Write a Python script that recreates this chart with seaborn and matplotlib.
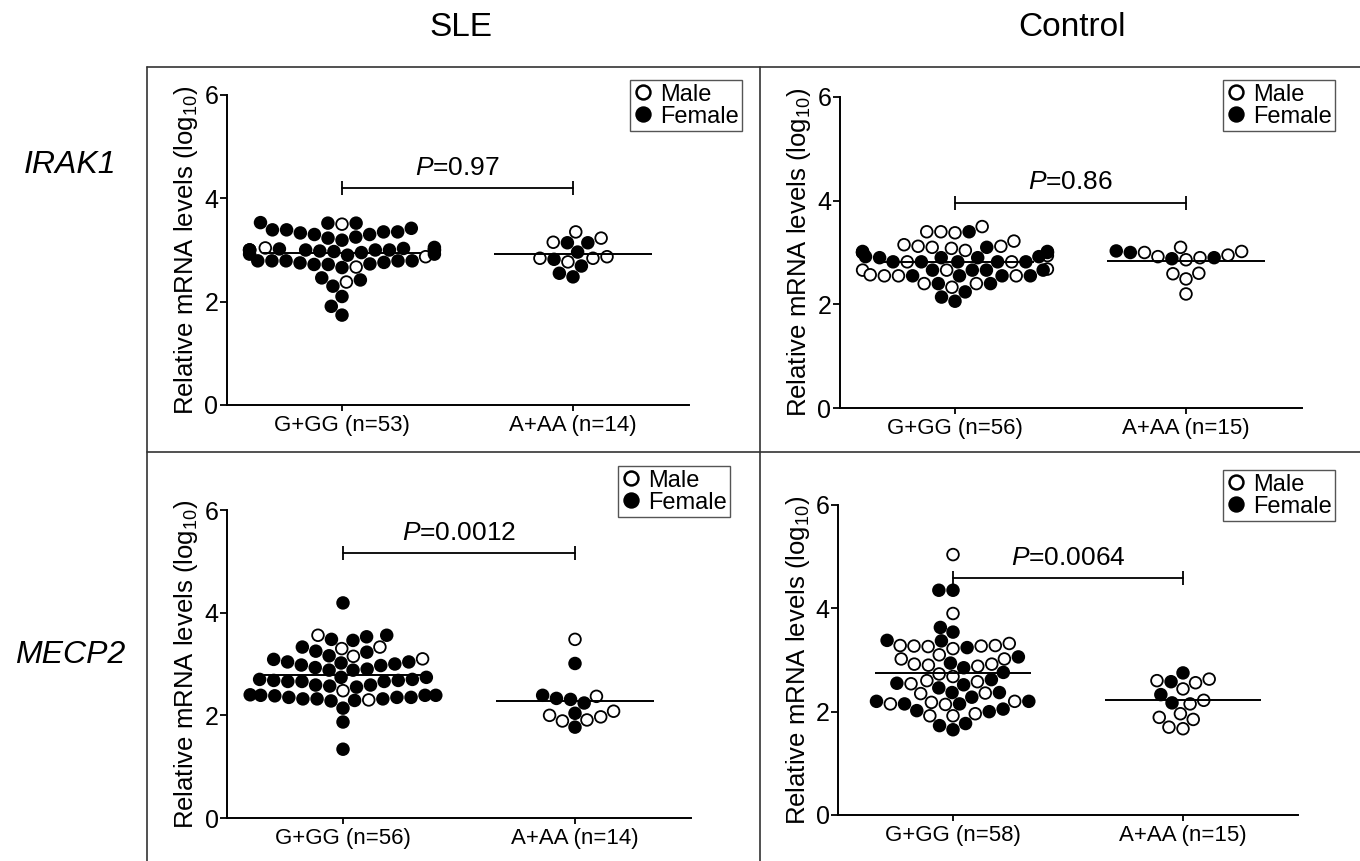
import numpy as np
import pandas as pd
import seaborn as sns
import matplotlib.pyplot as plt
from matplotlib.lines import Line2D

sns.set_theme(style='ticks')
plt.rcParams['font.family'] = ['Liberation Sans', 'DejaVu Sans']
plt.rcParams['mathtext.fontset'] = 'custom'
plt.rcParams['mathtext.rm'] = 'Liberation Sans'
plt.rcParams['mathtext.it'] = 'Liberation Sans:italic'
plt.rcParams['text.color'] = 'black'
plt.rcParams['axes.labelcolor'] = 'black'
plt.rcParams['xtick.color'] = 'black'
plt.rcParams['ytick.color'] = 'black'

genotypes = ['G+GG', 'A+AA']
sexes = ['Male', 'Female']

# values (log10 relative mRNA levels)
sle_irak1_gg_male = [3.50, 3.00, 3.00, 3.04, 2.87, 2.67, 2.38]
sle_irak1_gg_female = [3.39, 3.39, 3.30, 3.30, 3.52, 3.52, 3.53, 3.35, 3.35, 3.42,
                       3.23, 3.19, 3.25, 3.33,
                       3.00, 2.98, 3.02, 3.05, 3.00, 2.97, 3.03, 3.00, 3.00, 3.00, 3.00,
                       2.92, 2.90, 2.92, 2.95,
                       2.79, 2.79, 2.75, 2.73, 2.72, 2.72, 2.76, 2.79, 2.79, 2.79,
                       2.66, 2.46, 2.30, 2.42, 2.10, 1.91, 1.74]
sle_irak1_aa_male = [3.35, 3.15, 3.23, 2.84, 2.84, 2.77, 2.87]
sle_irak1_aa_female = [3.14, 3.14, 2.96, 2.69, 2.82, 2.48, 2.55]

ctl_irak1_gg_male = [3.50, 3.40, 3.40, 3.38, 3.22, 3.12, 3.15, 3.08, 3.10, 3.12,
                     3.02, 3.00, 3.00, 3.02, 3.04, 2.94, 2.82, 2.82, 2.66, 2.66,
                     2.68, 2.55, 2.55, 2.55, 2.57, 2.40, 2.40, 2.33]
ctl_irak1_gg_female = [3.40, 3.10, 3.00, 3.00, 3.00, 2.92, 2.90, 2.90, 2.90, 2.92,
                       2.82, 2.82, 2.82, 2.82, 2.82, 2.66, 2.66, 2.66, 2.66, 2.55,
                       2.55, 2.55, 2.55, 2.40, 2.40, 2.24, 2.06, 2.14]
ctl_irak1_aa_male = [3.10, 3.00, 2.92, 2.86, 2.90, 2.95, 3.02, 2.59, 2.49, 2.60, 2.20]
ctl_irak1_aa_female = [3.03, 2.90, 2.88, 3.00]

sle_mecp2_gg_male = [3.56, 3.33, 3.30, 3.15, 3.10, 2.30, 2.48]
sle_mecp2_gg_female = [4.19, 3.48, 3.56, 3.53, 3.46, 3.23, 3.25, 3.33,
                       3.09, 3.04, 3.04, 2.98, 2.97, 3.00, 3.02, 3.16,
                       2.90, 2.88, 2.88, 2.93,
                       2.74, 2.66, 2.66, 2.68, 2.68, 2.70, 2.66, 2.74, 2.70,
                       2.59, 2.55, 2.57, 2.59,
                       2.35, 2.39, 2.32, 2.39, 2.29, 2.38, 2.28, 2.39, 2.32, 2.40,
                       2.32, 2.35, 2.35, 2.14, 1.87, 1.34]
sle_mecp2_aa_male = [3.48, 2.37, 2.00, 2.08, 1.91, 1.89, 1.97]
sle_mecp2_aa_female = [3.01, 2.39, 2.33, 2.31, 2.24, 2.04, 1.77]

ctl_mecp2_gg_male = [5.04, 3.90, 3.27, 3.28, 3.27, 3.26, 3.28, 3.32, 3.22, 3.10,
                     3.02, 3.02, 2.92, 2.90, 2.88, 2.92, 2.68, 2.73, 2.60, 2.54,
                     2.58, 2.35, 2.36, 2.15, 2.18, 2.20, 2.14, 1.92, 1.92, 1.96]
ctl_mecp2_gg_female = [4.35, 4.35, 3.63, 3.54, 3.37, 3.38, 3.24, 3.06, 2.85, 2.94,
                       2.76, 2.62, 2.52, 2.46, 2.55, 2.37, 2.37, 2.28, 2.15, 2.05,
                       2.00, 2.20, 2.20, 2.15, 2.02, 1.77, 1.73, 1.65]
ctl_mecp2_aa_male = [2.63, 2.60, 2.56, 2.44, 2.15, 2.22, 1.85, 1.96, 1.89, 1.67, 1.70]
ctl_mecp2_aa_female = [2.75, 2.58, 2.33, 2.17]

p_values = ['0.97', '0.86', '0.0012', '0.0064']


def make_df(gg_m, gg_f, aa_m, aa_f):
    rows = []
    for g, m, f in [(genotypes[0], gg_m, gg_f), (genotypes[1], aa_m, aa_f)]:
        rows += [(g, 'Male', v) for v in m]
        rows += [(g, 'Female', v) for v in f]
    return pd.DataFrame(rows, columns=['genotype', 'sex', 'value'])


panels = [
    make_df(sle_irak1_gg_male, sle_irak1_gg_female, sle_irak1_aa_male, sle_irak1_aa_female),
    make_df(ctl_irak1_gg_male, ctl_irak1_gg_female, ctl_irak1_aa_male, ctl_irak1_aa_female),
    make_df(sle_mecp2_gg_male, sle_mecp2_gg_female, sle_mecp2_aa_male, sle_mecp2_aa_female),
    make_df(ctl_mecp2_gg_male, ctl_mecp2_gg_female, ctl_mecp2_aa_male, ctl_mecp2_aa_female),
]

W, H = 1360, 861
fig = plt.figure(figsize=(13.6, 8.61), dpi=100)

# layout in pixels: (x of first tick, category spacing, y of 0, y of 6)
layout = [(342, 231, 405, 95), (955, 231, 408, 97), (343, 232, 818, 510), (953, 230, 815, 505)]
bracket_y = [4.2, 3.96, 5.16, 4.58]
legend_corner = [(742, 80), (1335, 80), (730, 466), (1335, 470)]

for i, df in enumerate(panels):
    x0, unit, y0, y6 = layout[i]
    ax = fig.add_axes([(x0 - 0.5 * unit) / W, 1 - y0 / H, 2 * unit / W, (y0 - y6) / H])
    sns.swarmplot(data=df, x='genotype', y='value', hue='sex', order=genotypes,
                  hue_order=sexes, palette={'Male': 'white', 'Female': 'black'},
                  edgecolor='black', linewidth=1.3, size=8.4, legend=False,
                  warn_thresh=1, ax=ax)
    means = df.groupby('genotype')['value'].mean()
    for k, g in enumerate(genotypes):
        ax.hlines(means[g], k - 0.34, k + 0.34, color='black', lw=1.4, zorder=5)

    yb = bracket_y[i]
    ax.plot([0, 1], [yb, yb], color='black', lw=1.3, marker='|', markersize=10,
            markeredgewidth=1.3, clip_on=False)
    ax.text(0.5, yb + 0.16, r'$\it{P}$=' + p_values[i], ha='center', va='bottom',
            fontsize=19)

    ax.set_xlim(-0.5, 1.5)
    ax.set_ylim(0, 6)
    ax.set_yticks([0, 2, 4, 6])
    counts = df.groupby('genotype').size()
    ax.set_xticks([0, 1])
    ax.set_xticklabels([f'{g} (n={counts[g]})' for g in genotypes], fontsize=16)
    ax.tick_params(axis='y', labelsize=18, length=5, width=1.3, pad=1)
    ax.tick_params(axis='x', length=4, width=1.3, pad=3)
    ax.set_xlabel('')
    ax.set_ylabel(r'Relative mRNA levels (log$_{\mathrm{10}}$)', fontsize=18.5, labelpad=3)
    sns.despine(ax=ax)
    for s in ['left', 'bottom']:
        ax.spines[s].set_linewidth(1.4)
        ax.spines[s].set_color('black')
    ax.set_facecolor('none')

    handles = [Line2D([], [], ls='none', marker='o', mfc='white', mec='black', mew=1.8, ms=10),
               Line2D([], [], ls='none', marker='o', mfc='black', mec='black', mew=1.8, ms=10)]
    lx, ly = legend_corner[i]
    leg = ax.legend(handles, sexes, loc='upper right', bbox_to_anchor=(lx / W, 1 - ly / H),
                    bbox_transform=fig.transFigure, fontsize=17, frameon=True,
                    fancybox=False, framealpha=1, edgecolor='#555555', borderpad=0.15,
                    handlelength=0.8, handletextpad=0.3, labelspacing=0.0,
                    borderaxespad=0)
    leg.get_frame().set_linewidth(1.0)

# column and row titles
fig.text(461 / W, 1 - 28 / H, 'SLE', ha='center', va='center', fontsize=24)
fig.text(1072 / W, 1 - 28 / H, 'Control', ha='center', va='center', fontsize=24)
fig.text(70 / W, 1 - 165 / H, 'IRAK1', ha='center', va='center', fontsize=23, style='italic')
fig.text(70 / W, 1 - 655 / H, 'MECP2', ha='center', va='center', fontsize=23, style='italic')

# panel frame
frame = dict(color='#333333', lw=1.2, transform=fig.transFigure)
fig.add_artist(Line2D([147 / W, 1], [1 - 67 / H, 1 - 67 / H], **frame))
fig.add_artist(Line2D([147 / W, 147 / W], [0, 1 - 67 / H], **frame))
fig.add_artist(Line2D([760 / W, 760 / W], [0, 1 - 67 / H], **frame))
fig.add_artist(Line2D([147 / W, 1], [1 - 452 / H, 1 - 452 / H], **frame))

fig.savefig('out.png', dpi=100)
